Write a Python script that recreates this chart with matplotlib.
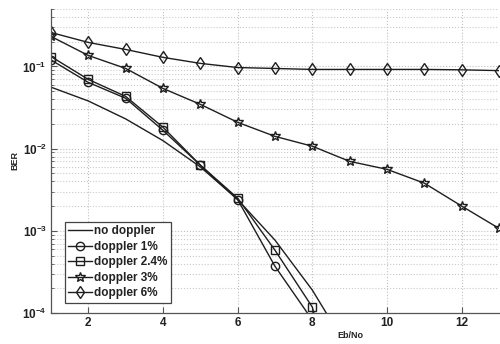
import matplotlib
matplotlib.use("Agg")
import matplotlib.pyplot as plt
from matplotlib.ticker import LogLocator, NullFormatter

# Eb/No (dB) and BER values
ebno = [1, 2, 3, 4, 5, 6, 7, 8, 9]
ber_no_doppler = [0.056, 0.038, 0.023, 0.0125, 0.0060, 0.0024, 7.7e-4, 1.9e-4, 3.4e-5]

ebno_d1 = [1, 2, 3, 4, 5, 6, 7, 8]
ber_d1 = [0.120, 0.064, 0.041, 0.0167, 0.0063, 0.0024, 3.7e-4, 8.2e-5]

ebno_d24 = [1, 2, 3, 4, 5, 6, 7, 8, 9]
ber_d24 = [0.132, 0.0695, 0.0432, 0.0182, 0.0063, 0.0025, 5.8e-4, 1.18e-4, 2e-6]

ebno_d3 = [1, 2, 3, 4, 5, 6, 7, 8, 9, 10, 11, 12, 13]
ber_d3 = [0.232, 0.136, 0.0946, 0.054, 0.0346, 0.0209, 0.0141, 0.0107,
          0.0070, 0.0056, 0.0038, 0.0020, 0.00107]

ebno_d6 = [1, 2, 3, 4, 5, 6, 7, 8, 9, 10, 11, 12, 13]
ber_d6 = [0.259, 0.196, 0.161, 0.129, 0.109, 0.097, 0.0945, 0.092,
          0.092, 0.092, 0.092, 0.091, 0.089]

LINE = "#1e1e1e"
plt.rcParams["font.family"] = ["Liberation Sans", "DejaVu Sans"]
plt.rcParams["font.weight"] = "bold"

fig = plt.figure(figsize=(5.0, 3.44), dpi=100)
ax = fig.add_axes([0.102, 0.0901, 0.896, 0.8837])

common = dict(color=LINE, linewidth=1.0, markerfacecolor="none",
              markeredgecolor=LINE, markeredgewidth=1.0)
ax.plot(ebno, ber_no_doppler, label="no doppler", **common)
ax.plot(ebno_d1, ber_d1, marker="o", markersize=6, label="doppler 1%", **common)
ax.plot(ebno_d24, ber_d24, marker="s", markersize=6, label="doppler 2.4%", **common)
ax.plot(ebno_d3, ber_d3, marker="*", markersize=7, label="doppler 3%", **common)
ax.plot(ebno_d6, ber_d6, marker="d", markersize=6.5, label="doppler 6%", **common)

ax.set_yscale("log")
ax.set_xlim(1, 13)
ax.set_ylim(1e-4, 0.5)
ax.set_xticks([2, 4, 6, 8, 10, 12])
ax.yaxis.set_major_locator(LogLocator(base=10, numticks=10))
ax.yaxis.set_minor_locator(LogLocator(base=10, subs=range(2, 10), numticks=20))
ax.yaxis.set_minor_formatter(NullFormatter())

ax.grid(True, which="major", color="#c0c0c0", linestyle=":", linewidth=0.8)
ax.grid(True, which="minor", axis="y", color="#cacaca", linestyle=":", linewidth=0.8)
ax.set_axisbelow(True)

for side in ("top", "right"):
    ax.spines[side].set_visible(False)
for side in ("left", "bottom"):
    ax.spines[side].set_color("#555555")
    ax.spines[side].set_linewidth(0.9)

ax.tick_params(which="major", direction="in", length=4, width=0.8,
               colors="#555555", labelcolor="#222222", labelsize=8.5, pad=3)
ax.tick_params(which="minor", direction="in", length=2, width=0.6, colors="#555555")
for lab in ax.get_xticklabels() + ax.get_yticklabels():
    lab.set_fontweight("bold")

ax.set_xlabel("Eb/No", fontsize=6.5, fontweight="bold", color="#222222")
ax.xaxis.set_label_coords((350 - 51) / 448, -(331 - 313) / 304)
ax.set_ylabel("BER", fontsize=6.5, fontweight="bold", color="#222222")
ax.yaxis.set_label_coords(-(51 - 19) / 448, (313 - 160) / 304)

leg = ax.legend(loc="lower left", bbox_to_anchor=(0.031, 0.033), borderaxespad=0,
                fancybox=False, framealpha=1, edgecolor="#444444",
                prop={"size": 8.5, "weight": "bold"}, handlelength=2.0,
                handletextpad=0.2, labelspacing=0.3, borderpad=0.3)
leg.get_frame().set_linewidth(0.9)
for t in leg.get_texts():
    t.set_color("#222222")

fig.savefig("out.png", dpi=100)
